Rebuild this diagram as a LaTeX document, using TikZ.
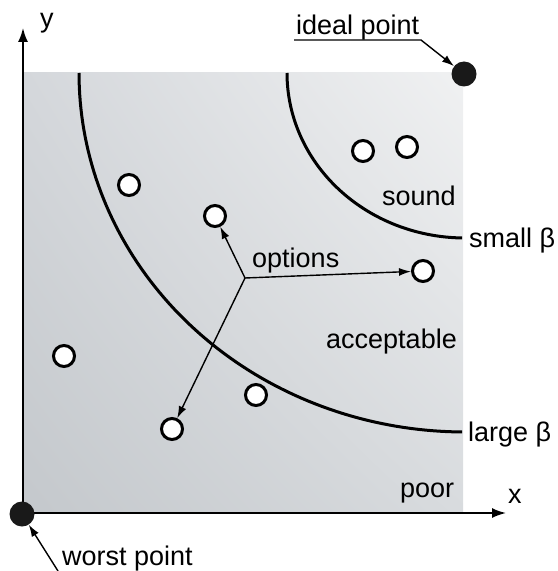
\documentclass[tikz,border=0pt]{standalone}
\usepackage{fontspec}
\setmainfont{Liberation Sans}
\usetikzlibrary{arrows.meta,shadings}
\definecolor{ulc}{RGB}{212,215,219}
\definecolor{urc}{RGB}{240,241,242}
\definecolor{llc}{RGB}{196,200,204}
\definecolor{lrc}{RGB}{216,219,222}
\begin{document}
\begin{tikzpicture}[x=1bp,y=-1bp,
  lbl/.style={inner sep=0pt,anchor=base west,font=\fontsize{27bp}{32bp}\selectfont},
  opt/.style={circle,draw=black,fill=white,line width=3bp,minimum size=21bp,inner sep=0pt},
  blk/.style={circle,fill=black!90,minimum size=25bp,inner sep=0pt},
  curve/.style={line width=3bp},
  axis/.style={line width=1.8bp,-{Latex[length=14bp,width=10bp]}},
  ptr/.style={line width=1.4bp,-{Latex[length=12bp,width=8bp]}}]
\useasboundingbox (0,0) rectangle (558,571);
% shaded field
\shade[upper left=ulc,upper right=urc,lower left=llc,lower right=lrc]
  (22,73) rectangle (463,513);
\begin{scope}
  \clip (22,73) rectangle (462,513);
  \draw[curve] plot[domain=180:270,samples=80] ({465+386*cos(\x)},{73-359*sin(\x)});
  \draw[curve] plot[domain=180:270,samples=80] ({465+178*cos(\x)},{73-165*sin(\x)});
\end{scope}
% axes
\coordinate (O) at (23,513);
\coordinate (X) at (506,513);
\coordinate (Y) at (23,28);
\draw[axis] (O) -- (X);
\draw[axis] (O) -- (Y);
\node[lbl] (xl) at (508,503) {x};
\node[lbl] (yl) at (40,28) {y};
% ideal & worst points
\node[blk] (ideal) at (464,74) {};
\node[blk] (worst) at (22,514) {};
\node[lbl] (ip) at (296,35) {ideal point};
\coordinate (ul1) at (294,40);
\coordinate (ul2) at (421,40);
\draw[ptr] (ul1) -- (ul2) -- (ideal);
\node[lbl] (wp) at (62,565) {worst point};
\coordinate (wpa) at (58,571);
\draw[ptr] (wpa) -- (worst);
% options
\node[opt] (c1) at (129,185) {};
\node[opt] (c2) at (215,216) {};
\node[opt] (c3) at (363,151) {};
\node[opt] (c4) at (407,147) {};
\node[opt] (c5) at (423,271) {};
\node[opt] (c6) at (64,356) {};
\node[opt] (c7) at (256,395) {};
\node[opt] (c8) at (172,429) {};
\coordinate (o) at (245,278);
\draw[ptr] (o) -- (c2);
\draw[ptr] (o) -- (c5);
\draw[ptr] (o) -- (c8);
\node[lbl] (ol) at (252,267) {options};
% region labels
\node[lbl] (snd) at (382,205) {sound};
\node[lbl] (acc) at (326,348) {acceptable};
\node[lbl] (pr) at (400,497) {poor};
\node[lbl] (sb) at (469,247) {small β};
\node[lbl] (lb) at (468,441) {large β};
\end{tikzpicture}
\end{document}
